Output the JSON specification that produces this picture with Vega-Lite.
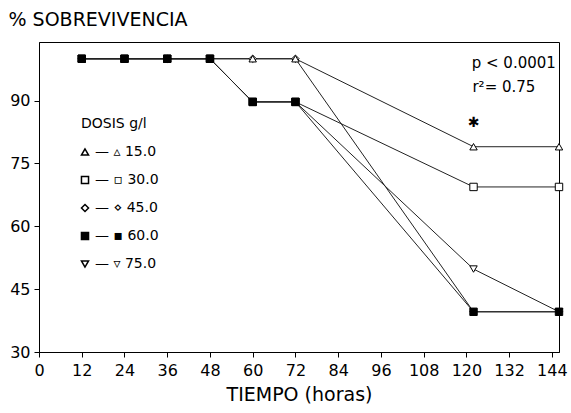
{
  "$schema": "https://vega.github.io/schema/vega-lite/v6.json",
  "width": 520,
  "height": 310,
  "autosize": {"type": "none"},
  "padding": {"left": 39, "top": 42, "right": 12, "bottom": 61},
  "background": "white",
  "config": {
    "view": {"stroke": "black", "strokeWidth": 1},
    "font": "DejaVu Sans",
    "axis": {
      "domainColor": "black", "tickColor": "black", "labelColor": "black", "titleColor": "black",
      "grid": false, "labelFont": "DejaVu Sans", "titleFont": "DejaVu Sans", "titleFontWeight": "normal"
    },
    "legend": {
      "titleFont": "DejaVu Sans", "labelFont": "DejaVu Sans", "titleFontSize": 14, "titleFontWeight": "normal",
      "titleColor": "black", "labelColor": "black", "labelFontSize": 14
    }
  },
  "data": {
    "values": [
      {"hora": 12, "sobrev": 100, "dosis": "45.0"},
      {"hora": 24, "sobrev": 100, "dosis": "45.0"},
      {"hora": 36, "sobrev": 100, "dosis": "45.0"},
      {"hora": 48, "sobrev": 100, "dosis": "45.0"},
      {"hora": 60, "sobrev": 100, "dosis": "45.0"},
      {"hora": 72, "sobrev": 100, "dosis": "45.0"},
      {"hora": 122, "sobrev": 39.6, "dosis": "45.0"},
      {"hora": 146, "sobrev": 39.6, "dosis": "45.0"},
      {"hora": 12, "sobrev": 100, "dosis": "30.0"},
      {"hora": 24, "sobrev": 100, "dosis": "30.0"},
      {"hora": 36, "sobrev": 100, "dosis": "30.0"},
      {"hora": 48, "sobrev": 100, "dosis": "30.0"},
      {"hora": 60, "sobrev": 89.7, "dosis": "30.0"},
      {"hora": 72, "sobrev": 89.7, "dosis": "30.0"},
      {"hora": 122, "sobrev": 69.4, "dosis": "30.0"},
      {"hora": 146, "sobrev": 69.4, "dosis": "30.0"},
      {"hora": 12, "sobrev": 100, "dosis": "75.0"},
      {"hora": 24, "sobrev": 100, "dosis": "75.0"},
      {"hora": 36, "sobrev": 100, "dosis": "75.0"},
      {"hora": 48, "sobrev": 100, "dosis": "75.0"},
      {"hora": 60, "sobrev": 89.7, "dosis": "75.0"},
      {"hora": 72, "sobrev": 89.7, "dosis": "75.0"},
      {"hora": 122, "sobrev": 49.8, "dosis": "75.0"},
      {"hora": 146, "sobrev": 39.6, "dosis": "75.0"},
      {"hora": 12, "sobrev": 100, "dosis": "15.0"},
      {"hora": 24, "sobrev": 100, "dosis": "15.0"},
      {"hora": 36, "sobrev": 100, "dosis": "15.0"},
      {"hora": 48, "sobrev": 100, "dosis": "15.0"},
      {"hora": 60, "sobrev": 100, "dosis": "15.0"},
      {"hora": 72, "sobrev": 100, "dosis": "15.0"},
      {"hora": 122, "sobrev": 79, "dosis": "15.0"},
      {"hora": 146, "sobrev": 79, "dosis": "15.0"},
      {"hora": 12, "sobrev": 100, "dosis": "60.0"},
      {"hora": 24, "sobrev": 100, "dosis": "60.0"},
      {"hora": 36, "sobrev": 100, "dosis": "60.0"},
      {"hora": 48, "sobrev": 100, "dosis": "60.0"},
      {"hora": 60, "sobrev": 89.7, "dosis": "60.0"},
      {"hora": 72, "sobrev": 89.7, "dosis": "60.0"},
      {"hora": 122, "sobrev": 39.6, "dosis": "60.0"},
      {"hora": 146, "sobrev": 39.6, "dosis": "60.0"}
    ]
  },
  "encoding": {
    "x": {
      "field": "hora", "type": "quantitative",
      "scale": {"domain": [0, 146], "nice": false, "zero": false},
      "axis": {
        "values": [0, 12, 24, 36, 48, 60, 72, 84, 96, 108, 120, 132, 144],
        "title": "TIEMPO (horas)", "titleFontSize": 19, "titlePadding": 7,
        "labelFontSize": 16, "tickSize": 5, "labelPadding": 5, "labelFlush": false, "labelOverlap": false
      }
    },
    "y": {
      "field": "sobrev", "type": "quantitative",
      "scale": {"domain": [30, 104], "nice": false, "zero": false},
      "axis": {
        "values": [30, 45, 60, 75, 90],
        "title": "% SOBREVIVENCIA", "titleFontSize": 19, "titleAngle": 0,
        "titleAlign": "left", "titleBaseline": "alphabetic", "titleX": -31, "titleY": -17,
        "labelFontSize": 16, "tickSize": 5, "labelPadding": 4
      }
    }
  },
  "layer": [
    {
      "mark": {"type": "line", "stroke": "#222222", "strokeWidth": 1},
      "encoding": {"detail": {"field": "dosis", "type": "nominal"}}
    },
    {
      "mark": {"type": "point", "filled": true, "stroke": "black", "strokeWidth": 1, "opacity": 1, "size": 55},
      "encoding": {
        "shape": {
          "field": "dosis", "type": "nominal", "title": "DOSIS g/l",
          "scale": {"domain": ["15.0", "30.0", "45.0", "60.0", "75.0"], "range": ["triangle-up", "square", "diamond", "square", "triangle-down"]},
          "legend": {
            "orient": "none", "legendX": 42, "legendY": 75,
            "titlePadding": 14, "labelOffset": 3, "symbolOffset": -3, "symbolSize": 50, "rowPadding": 14,
            "labelExpr": "(datum.value == '15.0' ? '— ▵ ' : datum.value == '30.0' ? '— ▫ ' : datum.value == '45.0' ? '— ⋄ ' : datum.value == '60.0' ? '— ▪ ' : '— ▿ ') + datum.label"
          }
        },
        "fill": {
          "field": "dosis", "type": "nominal", "title": "DOSIS g/l",
          "scale": {"domain": ["15.0", "30.0", "45.0", "60.0", "75.0"], "range": ["white", "white", "white", "black", "white"]},
          "legend": {
            "orient": "none", "legendX": 42, "legendY": 75,
            "titlePadding": 14, "labelOffset": 3, "symbolOffset": -3, "symbolSize": 50, "rowPadding": 14,
            "labelExpr": "(datum.value == '15.0' ? '— ▵ ' : datum.value == '30.0' ? '— ▫ ' : datum.value == '45.0' ? '— ⋄ ' : datum.value == '60.0' ? '— ▪ ' : '— ▿ ') + datum.label"
          }
        }
      }
    },
    {
      "data": {"values": [
        {"hora": 121.5, "sobrev": 99, "nota": "p < 0.0001"},
        {"hora": 121.7, "sobrev": 93.3, "nota": "r²= 0.75"}
      ]},
      "mark": {"type": "text", "align": "left", "baseline": "middle", "fontSize": 15, "color": "black", "font": "DejaVu Sans"},
      "encoding": {"text": {"field": "nota"}}
    },
    {
      "data": {"values": [{"hora": 122, "sobrev": 84.7, "nota": "✱"}]},
      "mark": {"type": "text", "align": "center", "baseline": "middle", "fontSize": 14, "color": "black", "font": "DejaVu Sans"},
      "encoding": {"text": {"field": "nota"}}
    }
  ]
}
